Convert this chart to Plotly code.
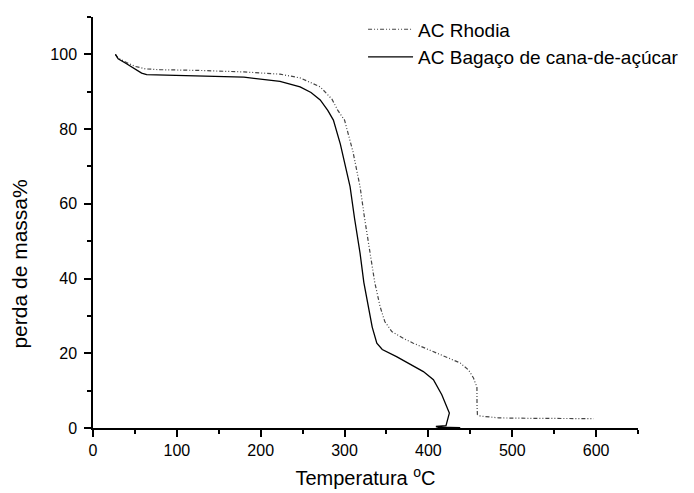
import plotly.graph_objects as go

# AC Rhodia (dash-dot-dot curve)
rhodia_T = [26.7, 30, 40, 50, 63, 80, 127, 180, 223, 247, 271, 285, 292, 300, 310, 318.5, 324, 330.5,
            336, 342.4, 348, 356.4, 370, 382, 400, 422, 438, 448, 453.8, 456, 457.9, 458, 458.5,
            462, 466, 484, 520, 560, 597]
rhodia_m = [100, 99, 97.8, 96.8, 96.1, 95.9, 95.7, 95.3, 94.7, 93.7, 91.3, 88, 85, 82.4, 74, 64.6, 56, 46.8,
            39, 32.5, 28.5, 25.8, 24, 22.7, 21, 19.1, 17.4, 15.5, 13.4, 12, 11, 6, 3.6,
            3.2, 3.1, 2.7, 2.6, 2.5, 2.5]

# AC Bagaço de cana-de-açúcar (solid curve)
bagaco_T = [26.7, 30, 40, 50, 58, 64, 127, 180, 223, 247, 260, 271, 280, 286.7, 295, 301, 306.6, 312,
            318.5, 323, 328.5, 333, 338.5, 345, 362, 375, 394, 406, 416, 425, 421, 409, 412, 438]
bagaco_m = [100, 98.8, 97.5, 96, 95, 94.6, 94.3, 93.9, 92.8, 91.3, 89.8, 87.8, 85, 82.4, 76, 70, 64.6, 56,
            46.8, 39, 32.5, 27, 22.7, 21, 19.1, 17.5, 15.1, 12.9, 8.9, 4.0, 0.6, 0.4, 0.2, 0.1]

x_ticks = [0, 100, 200, 300, 400, 500, 600]
y_ticks = [0, 20, 40, 60, 80, 100]

FONT = "Liberation Sans, Arial, sans-serif"

fig = go.Figure()
fig.add_trace(go.Scatter(x=rhodia_T, y=rhodia_m, mode="lines", name="AC Rhodia",
                         line=dict(color="#444444", width=1.2, dash="4px,2px,1px,2px,1px,2px")))
fig.add_trace(go.Scatter(x=bagaco_T, y=bagaco_m, mode="lines", name="AC Bagaço de cana-de-açúcar",
                         line=dict(color="black", width=1.3)))

# page body has an 8px default margin, so the figure is 8px smaller on each side
fig.update_layout(
    width=686, height=485,
    margin=dict(l=85, r=56, t=9, b=65, autoexpand=False),
    paper_bgcolor="white", plot_bgcolor="white",
    font=dict(family=FONT, color="black", size=16),
    showlegend=True,
    legend=dict(x=0.4955, y=1.016, xanchor="left", yanchor="top", bgcolor="rgba(0,0,0,0)",
                font=dict(size=19, family=FONT, color="black"), itemwidth=45,
                tracegroupgap=0),
    xaxis=dict(range=[0, 650], tickvals=x_ticks, showgrid=False, zeroline=False, automargin=False,
               showline=True, linecolor="black", linewidth=1.5,
               ticks="outside", ticklen=7, tickwidth=1.5, tickcolor="black",
               minor=dict(dtick=50, ticks="outside", ticklen=4, tickwidth=1.5, tickcolor="black", showgrid=False),
               tickfont=dict(size=16),
               title=dict(text="Temperatura <sup>o</sup>C", font=dict(size=20), standoff=13)),
    yaxis=dict(range=[0, 110], tickvals=y_ticks, showgrid=False, zeroline=False, automargin=False,
               showline=True, linecolor="black", linewidth=1.5,
               ticks="outside", ticklen=7, tickwidth=1.5, tickcolor="black", ticklabelstandoff=4,
               minor=dict(dtick=10, ticks="outside", ticklen=4, tickwidth=1.5, tickcolor="black", showgrid=False),
               tickfont=dict(size=16)),
    annotations=[dict(text="perda de massa%", textangle=-90, showarrow=False,
                      xref="paper", yref="paper", x=-0.134, y=0.40,
                      xanchor="center", yanchor="middle", font=dict(size=21, family=FONT, color="black"))],
)

fig.write_html("out.html")
